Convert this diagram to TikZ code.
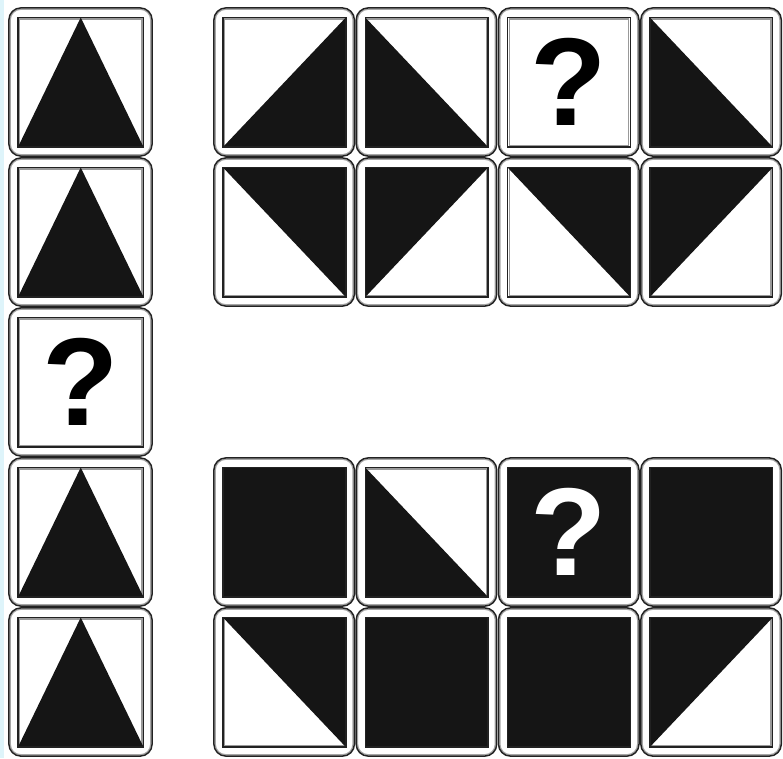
\documentclass[tikz,border=0pt]{standalone}
\usepackage{fontspec}
\setmainfont{Liberation Sans}
\usetikzlibrary{calc}
\definecolor{ink}{HTML}{151515}
\definecolor{edge}{HTML}{222222}
\definecolor{cyanstrip}{RGB}{222,244,250}
\tikzset{
  outerb/.style={draw=edge, line width=1.5pt, rounded corners=12pt},
  outerg/.style={draw=black!35, line width=1.2pt, rounded corners=10.5pt},
  innerb/.style={draw=edge, line width=1.5pt},
  innerg/.style={draw=black!40, line width=1.3pt},
  blk/.style={fill=ink},
  qmark/.style={inner sep=0pt, font=\fontsize{125}{125}\selectfont\bfseries},
}
\newcommand\qtile[5]{%
  \draw[outerg] (#1+2.3,#2+2.3) rectangle (#3-2.3,#4-2.3);
  \draw[outerb] (#1+0.9,#2+0.9) rectangle (#3-0.9,#4-0.9);
  \coordinate (tl) at (#1+10,#2+10.5);
  \coordinate (tr) at (#3-9.5,#2+10.5);
  \coordinate (bl) at (#1+10,#4-10);
  \coordinate (br) at (#3-9.5,#4-10);
  \coordinate (tm) at ($(tl)!0.5!(tr)$);
  \coordinate (cc) at ($(tl)!0.5!(br)$);
  \draw[innerg] ($(tl)+(1.6,1.6)$) rectangle ($(br)+(-1.6,-1.6)$);
  #5
  \draw[innerb] (tl) rectangle (br);
}
\begin{document}
\begin{tikzpicture}[x=1pt,y=-1pt]
\useasboundingbox (0,0) rectangle (783,758);
\fill[cyanstrip] (0,0) rectangle (4,758);
% left column
\qtile{8}{7}{153}{157}{\fill[blk] (bl)--(tm)--(br)--cycle;}
\qtile{8}{157}{153}{307}{\fill[blk] (bl)--(tm)--(br)--cycle;}
\qtile{8}{307}{153}{457}{\node[qmark] (q1) at (cc) {?};}
\qtile{8}{457}{153}{607}{\fill[blk] (bl)--(tm)--(br)--cycle;}
\qtile{8}{607}{153}{757}{\fill[blk] (bl)--(tm)--(br)--cycle;}
% top block, row 1
\qtile{213}{7}{355.3}{157}{\fill[blk] (tr)--(br)--(bl)--cycle;}
\qtile{355.3}{7}{497.6}{157}{\fill[blk] (tl)--(bl)--(br)--cycle;}
\qtile{497.6}{7}{639.9}{157}{\node[qmark] (q2) at (cc) {?};}
\qtile{639.9}{7}{782.2}{157}{\fill[blk] (tl)--(bl)--(br)--cycle;}
% top block, row 2
\qtile{213}{157}{355.3}{307}{\fill[blk] (tl)--(tr)--(br)--cycle;}
\qtile{355.3}{157}{497.6}{307}{\fill[blk] (tl)--(tr)--(bl)--cycle;}
\qtile{497.6}{157}{639.9}{307}{\fill[blk] (tl)--(tr)--(br)--cycle;}
\qtile{639.9}{157}{782.2}{307}{\fill[blk] (tl)--(tr)--(bl)--cycle;}
% bottom block, row 1
\qtile{213}{457}{355.3}{607}{\fill[blk] (tl) rectangle (br);}
\qtile{355.3}{457}{497.6}{607}{\fill[blk] (tl)--(bl)--(br)--cycle;}
\qtile{497.6}{457}{639.9}{607}{\fill[blk] (tl) rectangle (br); \node[qmark, text=white] (q3) at (cc) {?};}
\qtile{639.9}{457}{782.2}{607}{\fill[blk] (tl) rectangle (br);}
% bottom block, row 2
\qtile{213}{607}{355.3}{757}{\fill[blk] (tl)--(tr)--(br)--cycle;}
\qtile{355.3}{607}{497.6}{757}{\fill[blk] (tl) rectangle (br);}
\qtile{497.6}{607}{639.9}{757}{\fill[blk] (tl) rectangle (br);}
\qtile{639.9}{607}{782.2}{757}{\fill[blk] (tl)--(tr)--(bl)--cycle;}
\end{tikzpicture}
\end{document}
